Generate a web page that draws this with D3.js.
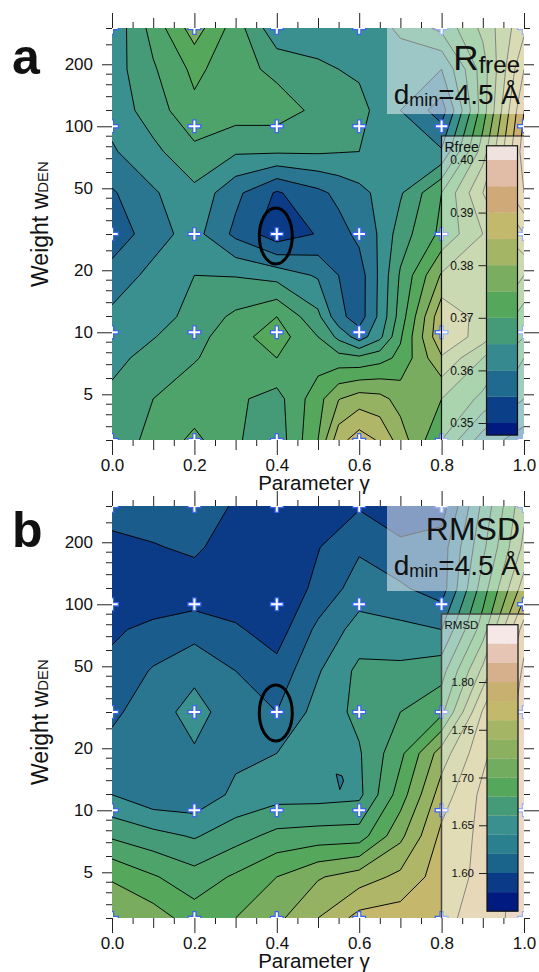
<!DOCTYPE html>
<html><head><meta charset="utf-8">
<script src="https://cdn.jsdelivr.net/npm/d3@7"></script>
<style>
html,body{margin:0;padding:0;background:#fff}
svg{display:block}
text{font-family:"Liberation Sans",Arial,sans-serif;fill:#111}
</style></head><body>
<svg id="c" width="539" height="972"></svg>
<script>
// ---- shared axis data
const crossGamma = [0,0.2,0.4,0.6,0.8,1.0];
const crossWeight = [3,10,30,100,300];
const xTicksMajor = [0,0.2,0.4,0.6,0.8,1.0];
const xTicksMid = [0.1,0.3,0.5,0.7,0.9];
const xTicksMinor = [0.05,0.15,0.25,0.35,0.45,0.55,0.65,0.75,0.85,0.95];
const yTicksMajor = [10,100];
const yTicksMid = [5,20,50,200];
const yTicksMinor = [3,3.5,4,4.5,6,7,8,9,12,14,16,18,25,30,35,40,45,60,70,80,90,120,140,160,180,250,300];

// shared colour bands of the contour fill
const bandColors = ["#001a80","#0b3a86","#1a5c8c","#2a7690","#3a8f8f","#459a78","#4ea36a","#55a85b","#7aac60","#95b263","#b0b668","#c5b86d","#cdb070","#d6b08c","#e6c5b5","#f5e8e6"];

// ---- panel a: Rfree
const rfreeGamma = [0,0.1,0.2,0.3,0.4,0.5,0.55,0.6,0.65,0.7,0.8,0.9,1.0];
const rfreeWeights = [300,189.3,119.4,75.4,47.5,30,18.9,11.9,9.5,7.5,4.75,3];
const rfreeLevels = [0.352,0.356,0.360,0.364,0.368,0.372,0.376,0.380,0.384,0.388,0.392,0.396,0.400,0.404,0.408];
const rfree300 = [.3650,.3735,.3820,.3740,.3650,.3650,.3650,.3655,.3665,.3690,.3730,.3810,.3910];
const rfree189 = [.3660,.3715,.3770,.3735,.3710,.3690,.3680,.3675,.3660,.3650,.3640,.3780,.3960];
const rfree119 = [.3655,.3700,.3750,.3740,.3740,.3710,.3700,.3690,.3670,.3640,.3580,.3780,.4000];
const rfree75  = [.3635,.3670,.3710,.3685,.3685,.3685,.3682,.3680,.3660,.3645,.3645,.3820,.4020];
const rfree47  = [.3595,.3635,.3670,.3610,.3555,.3590,.3610,.3628,.3650,.3675,.3760,.3880,.4000];
const rfree30  = [.3570,.3625,.3655,.3590,.3535,.3563,.3585,.3610,.3645,.3700,.3770,.3840,.3920];
const rfree19  = [.3620,.3650,.3680,.3678,.3665,.3635,.3600,.3580,.3648,.3725,.3845,.3850,.3840];
const rfree12  = [.3648,.3660,.3695,.3728,.3760,.3690,.3612,.3580,.3650,.3738,.3910,.3865,.3780];
const rfree9   = [.3655,.3678,.3705,.3745,.3780,.3720,.3670,.3620,.3670,.3755,.3915,.3860,.3760];
const rfree7   = [.3668,.3695,.3718,.3735,.3760,.3740,.3735,.3730,.3745,.3770,.3875,.3800,.3720];
const rfree5   = [.3690,.3720,.3735,.3727,.3705,.3785,.3838,.3860,.3853,.3825,.3800,.3750,.3680];
const rfree3   = [.3700,.3730,.3770,.3725,.3695,.3800,.3905,.3940,.3915,.3860,.3760,.3660,.3620];
const rfreeRows = [rfree300,rfree189,rfree119,rfree75,rfree47,rfree30,rfree19,rfree12,rfree9,rfree7,rfree5,rfree3];
const rfreeLegendLevels = [0.35,0.355,0.36,0.365,0.37,0.375,0.38,0.385,0.39,0.395,0.40];
const rfreeLegendEnds = [0.3477,0.4027];
const rfreeLegendColors = ["#001a80","#0b3f88","#1f6a8e","#36898f","#459a78","#55a85b","#7aad60","#a5b566","#c2b96c","#cfaa78","#e1bda8","#f0e2de"];
const rfreeLegendTicks = [0.35,0.36,0.37,0.38,0.39,0.40];

// ---- panel b: RMSD
const rmsdGamma = [0,0.1,0.2,0.3,0.4,0.5,0.6,0.7,0.8,0.9,1.0];
const rmsdWeights = [300,189.3,119.4,75.4,47.5,30,18.9,11.9,7.5,4.75,3];
const rmsdLevels = [1.58,1.60,1.62,1.64,1.66,1.68,1.70,1.72,1.74,1.76,1.78,1.80,1.82,1.84,1.86];
const rmsd300 = [1.615,1.615,1.610,1.598,1.585,1.590,1.598,1.585,1.590,1.665,1.735];
const rmsd189 = [1.590,1.598,1.605,1.585,1.582,1.599,1.617,1.605,1.610,1.675,1.745];
const rmsd119 = [1.585,1.585,1.585,1.585,1.585,1.605,1.630,1.623,1.610,1.690,1.770];
const rmsd75  = [1.597,1.605,1.613,1.603,1.590,1.625,1.648,1.645,1.640,1.710,1.810];
const rmsd47  = [1.605,1.622,1.633,1.620,1.607,1.638,1.665,1.665,1.672,1.745,1.825];
const rmsd30  = [1.617,1.628,1.650,1.625,1.620,1.648,1.665,1.680,1.695,1.782,1.830];
const rmsd19  = [1.625,1.630,1.637,1.635,1.640,1.650,1.658,1.695,1.750,1.795,1.830];
const rmsd12  = [1.640,1.625,1.625,1.645,1.652,1.652,1.655,1.710,1.770,1.805,1.830];
const rmsd7   = [1.677,1.667,1.658,1.672,1.686,1.689,1.690,1.735,1.785,1.805,1.830];
const rmsd5   = [1.718,1.702,1.688,1.703,1.720,1.738,1.750,1.765,1.790,1.805,1.830];
const rmsd3   = [1.735,1.730,1.710,1.720,1.735,1.760,1.787,1.790,1.795,1.808,1.830];
const rmsdRows = [rmsd300,rmsd189,rmsd119,rmsd75,rmsd47,rmsd30,rmsd19,rmsd12,rmsd7,rmsd5,rmsd3];
const rmsdLegendLevels = [1.58,1.60,1.62,1.64,1.66,1.68,1.70,1.72,1.74,1.76,1.78,1.80,1.82,1.84];
const rmsdLegendEnds = [1.56,1.86];
const rmsdLegendColors = ["#001a80","#0b3a86","#1a648c","#2b8090","#3a8f8f","#459a78","#55a85b","#72ac5e","#8ab060","#a5b566","#c2b96c","#c8b070","#d6b08c","#e6c5b5","#f5e8e6"];
const rmsdLegendTicks = [1.60,1.65,1.70,1.75,1.80];
// the tiny closed low contour near gamma 0.55
const rmsdSpotGamma = [0.544,0.558,0.562,0.553];
const rmsdSpotWeight = [15.0,14.7,13.9,12.6];

const svg = d3.select("#c");

function panel(o){
  const x = d3.scaleLinear().domain([0,1]).range([112,524]);
  const y = d3.scaleLog().domain([3,300]).range([o.bottom,o.top]);
  const g = svg.append("g");
  const clipId = "clip"+o.name;
  g.append("clipPath").attr("id",clipId).append("rect")
    .attr("x",112).attr("y",o.top).attr("width",412).attr("height",o.bottom-o.top);

  // contour fills, padded by one repeated row/col so that the edge values reach the frame
  const nx = o.gamma.length, ny = o.rows.length;
  const flat = [];
  for(let j=-1;j<=ny;j++) for(let i=-1;i<=nx;i++){
    const r = o.rows[Math.max(0,Math.min(ny-1,j))];
    flat.push(r[Math.max(0,Math.min(nx-1,i))]);
  }
  const contours = d3.contours().size([nx+2,ny+2]).thresholds(o.levels)(flat);
  const logW = d3.scaleLinear().domain(d3.range(ny)).range(o.weights.map(Math.log10));
  const gam = d3.scaleLinear().domain(d3.range(nx)).range(o.gamma);
  const proj = d3.geoTransform({point(px,py){
    const cx = px-1.5, cy = py-1.5;
    const gx = cx<0 ? cx*0.1 : cx>nx-1 ? 1+(cx-nx+1)*0.1 : gam(cx);
    const ly = cy<0 ? Math.log10(300)-cy*0.2 : cy>ny-1 ? Math.log10(3)-(cy-ny+1)*0.2 : logW(cy);
    this.stream.point(x(gx), y(Math.pow(10,ly)));
  }});
  const path = d3.geoPath(proj);
  const plot = g.append("g").attr("clip-path",`url(#${clipId})`);
  plot.append("rect").attr("x",112).attr("y",o.top).attr("width",412).attr("height",o.bottom-o.top).attr("fill",bandColors[0]);
  plot.selectAll("path.band").data(contours).join("path").attr("class","band")
    .attr("d",path).attr("fill",(d,i)=>bandColors[i+1])
    .attr("stroke","#000").attr("stroke-width",0.95).attr("stroke-linejoin","miter");

  if(o.spot){
    const pts = o.spot.g.map((v,i)=>[x(v),y(o.spot.w[i])]);
    plot.append("path").attr("d",d3.line().curve(d3.curveLinearClosed)(pts))
      .attr("fill",bandColors[3]).attr("stroke","#000").attr("stroke-width",1);
  }

  // grid crosses
  const crosses = d3.cross(crossGamma,crossWeight);
  const plus = r=>([a,b])=>`M${x(a)-r},${y(b)}H${x(a)+r}M${x(a)},${y(b)-r}V${y(b)+r}`;
  plot.selectAll("path.cb").data(crosses).join("path").attr("class","cb").attr("d",plus(7))
    .attr("stroke","#3a66f2").attr("stroke-width",4.4).attr("fill","none");
  plot.selectAll("path.cw").data(crosses).join("path").attr("class","cw").attr("d",plus(5.7))
    .attr("stroke","#fff").attr("stroke-width",2).attr("fill","none");

  // ellipse marking the optimum
  g.append("ellipse").attr("cx",x(0.4)-1).attr("cy",o.ellipseY).attr("rx",16.5).attr("ry",28)
    .attr("fill","none").attr("stroke","#000").attr("stroke-width",3);

  // translucent boxes
  g.append("rect").attr("x",387).attr("y",o.top).attr("width",137).attr("height",o.boxH)
    .attr("fill","#fff").attr("opacity",0.5);
  g.append("rect").attr("x",441.5).attr("y",o.legTop).attr("width",82.5).attr("height",o.bottom-o.legTop)
    .attr("fill","#fff").attr("opacity",0.5);
  g.append("path").attr("d",`M441.5,${o.bottom}V${o.legTop}H524`).attr("fill","none")
    .attr("stroke",o.legStroke).attr("stroke-width",o.legWidth);

  // axes, one per tick tier
  const tier = (gen,vals,size,fmt,pad)=>{
    const a = g.append("g").call(gen.tickValues(vals).tickSize(size).tickPadding(pad||3).tickFormat(fmt||""));
    a.select(".domain").remove();
    a.selectAll("line").attr("stroke","#222");
    if(fmt) a.selectAll("text").attr("font-size",17).attr("font-family","Liberation Sans").attr("fill","#111");
    else a.selectAll("text").remove();
    return a;
  };
  const f1 = d3.format(".1f"), fy = d3.format("d");
  const xb = ()=>d3.axisBottom(x), xt = ()=>d3.axisTop(x), yl = ()=>d3.axisLeft(y), yr = ()=>d3.axisRight(y);
  tier(xb(),xTicksMajor,15,f1,4).attr("transform",`translate(0,${o.bottom})`);
  tier(xb(),xTicksMid,10).attr("transform",`translate(0,${o.bottom})`);
  tier(xb(),xTicksMinor,6).attr("transform",`translate(0,${o.bottom})`);
  tier(xt(),xTicksMajor,15).attr("transform",`translate(0,${o.top})`);
  tier(xt(),xTicksMid,10).attr("transform",`translate(0,${o.top})`);
  tier(xt(),xTicksMinor,6).attr("transform",`translate(0,${o.top})`);
  tier(yl(),yTicksMajor,15,fy,4).attr("transform","translate(112,0)");
  tier(yl(),yTicksMid,10,fy,9).attr("transform","translate(112,0)");
  tier(yl(),yTicksMinor,6).attr("transform","translate(112,0)");
  tier(yr(),yTicksMajor,15).attr("transform","translate(524,0)");
  tier(yr(),yTicksMid,10).attr("transform","translate(524,0)");
  tier(yr(),yTicksMinor,6).attr("transform","translate(524,0)");

  // axis titles
  g.append("text").attr("x",314).attr("y",o.bottom+50).attr("text-anchor","middle").attr("font-size",20.5).text("Parameter γ");
  const yt = g.append("text").attr("transform",`translate(48,${o.yTitleY}) rotate(-90)`).attr("text-anchor","middle").attr("font-size",23);
  yt.append("tspan").text("Weight w");
  yt.append("tspan").attr("font-size",15).text("DEN");
  g.append("text").attr("x",12).attr("y",o.letterY).attr("font-size",50).attr("font-weight","bold").attr("fill","#000").text(o.letter);

  // titles in the upper-right box
  o.title(g);
  const dm = g.append("text").attr("x",520).attr("y",o.dminY).attr("text-anchor","end").attr("font-size",28);
  dm.append("tspan").text("d");
  dm.append("tspan").attr("font-size",18).attr("dy",2).text("min");
  dm.append("tspan").attr("dy",-2).text("=4.5 Å");

  // legend
  const ly = d3.scaleLinear().domain(o.legDomain).range(o.legRange);
  const edges = [o.legEnds[0],...o.legLevels,o.legEnds[1]];
  g.selectAll("rect.leg").data(o.legColors).join("rect").attr("class","leg")
    .attr("x",o.barX).attr("width",31)
    .attr("y",(d,i)=>ly(edges[i+1])).attr("height",(d,i)=>ly(edges[i])-ly(edges[i+1]))
    .attr("fill",d=>d);
  g.append("rect").attr("x",o.barX).attr("width",31).attr("y",ly(o.legEnds[1])).attr("height",ly(o.legEnds[0])-ly(o.legEnds[1]))
    .attr("fill","none").attr("stroke","#111").attr("stroke-width",1.2);
  const la = g.append("g").attr("transform",`translate(${o.barX},0)`)
    .call(d3.axisLeft(ly).tickValues(o.legTicks).tickSize(8).tickPadding(5).tickFormat(d3.format(".2f")));
  la.select(".domain").remove();
  la.selectAll("line").attr("stroke","#222");
  la.selectAll("text").attr("font-size",o.legFont).attr("font-family","Liberation Sans").attr("fill","#111");
  g.append("text").attr("x",444.5).attr("y",o.legTitleY).attr("font-size",o.legTitleFont).text(o.legTitle);
}

panel({name:"a",letter:"a",top:28,bottom:440,gamma:rfreeGamma,weights:rfreeWeights,rows:rfreeRows,levels:rfreeLevels,ellipseY:236,boxH:86,legTop:136,
  legStroke:"#111",legWidth:1.2,yTitleY:224,letterY:74,dminY:104,
  title:g=>{const t=g.append("text").attr("x",520).attr("y",70).attr("text-anchor","end").attr("font-size",35);
    t.append("tspan").text("R");t.append("tspan").attr("font-size",24).attr("dy",2.5).text("free");},
  legDomain:[0.35,0.40],legRange:[423,160],legEnds:rfreeLegendEnds,legLevels:rfreeLegendLevels,legColors:rfreeLegendColors,legTicks:rfreeLegendTicks,
  barX:486.5,legFont:12,legTitle:"Rfree",legTitleY:152,legTitleFont:14});
panel({name:"b",letter:"b",top:506,bottom:918,gamma:rmsdGamma,weights:rmsdWeights,rows:rmsdRows,levels:rmsdLevels,ellipseY:713,boxH:85,legTop:614,
  legStroke:"#444",legWidth:1.5,yTitleY:722,letterY:547,dminY:575,
  spot:{g:rmsdSpotGamma,w:rmsdSpotWeight},
  title:g=>{g.append("text").attr("x",520).attr("y",540).attr("text-anchor","end").attr("font-size",32).text("RMSD");},
  legDomain:[1.60,1.80],legRange:[873,682],legEnds:rmsdLegendEnds,legLevels:rmsdLegendLevels,legColors:rmsdLegendColors,legTicks:rmsdLegendTicks,
  barX:487,legFont:11.5,legTitle:"RMSD",legTitleY:629,legTitleFont:11.5});
</script>
</body></html>
